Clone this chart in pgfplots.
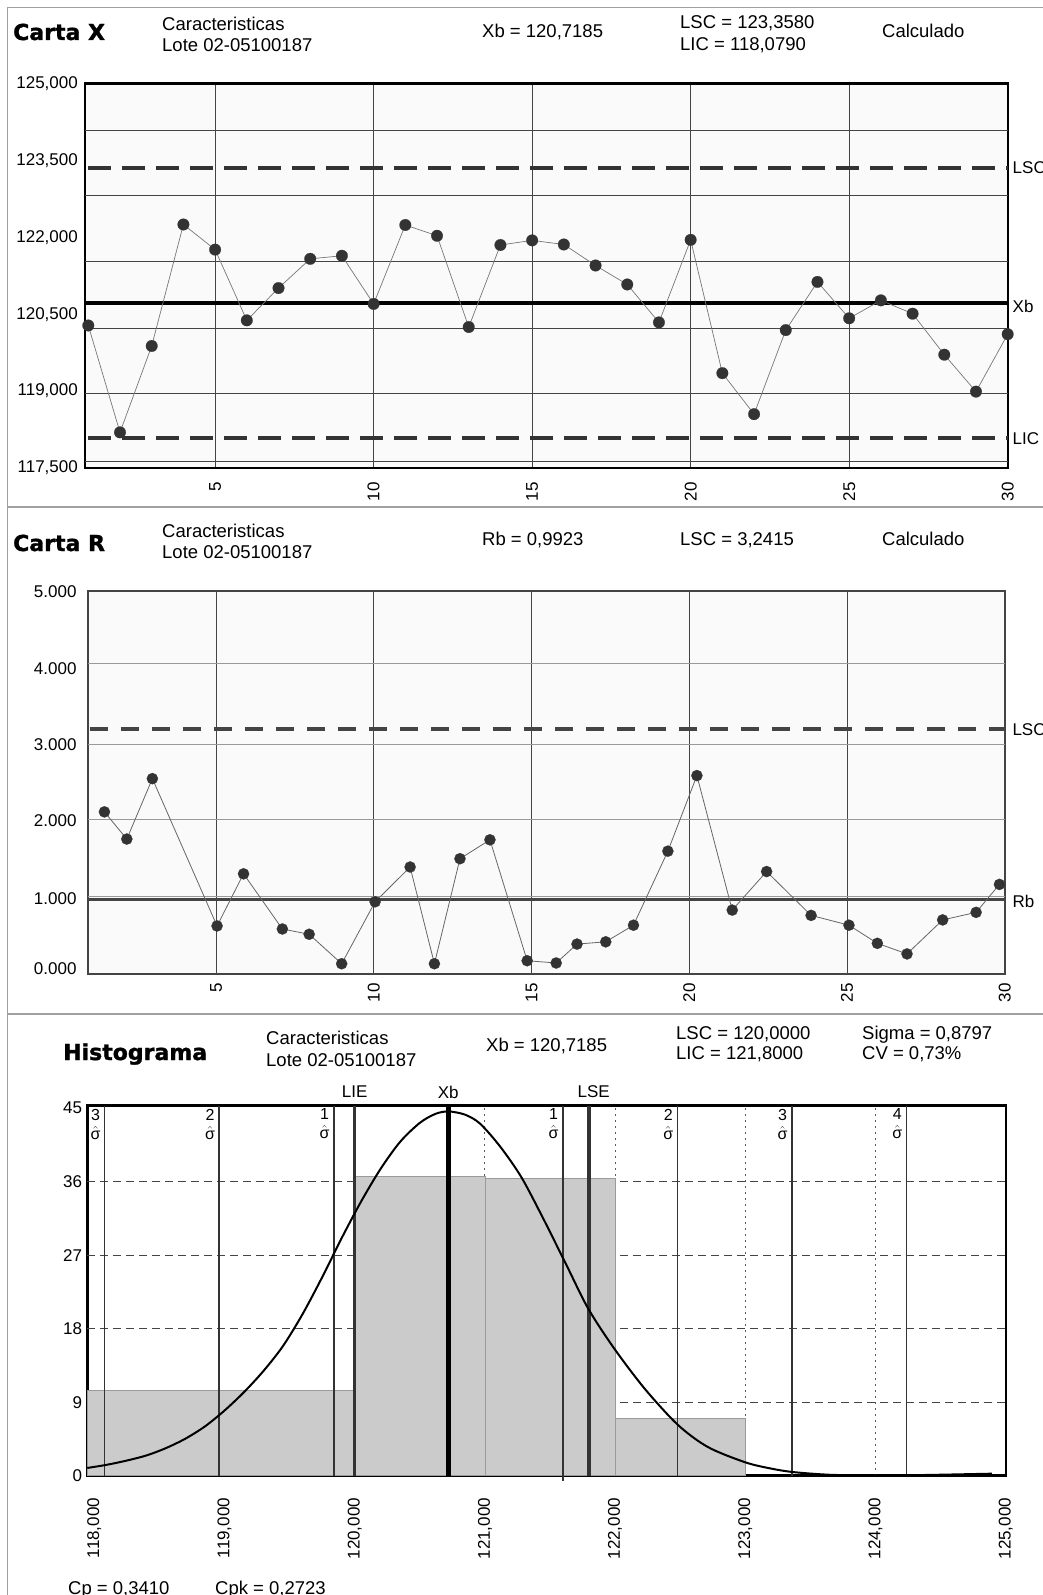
\documentclass[border=0pt]{standalone}
\usepackage{pgfplots}
\pgfplotsset{compat=1.18}
\usepackage{fontspec}
\setmainfont{Liberation Sans}
\newfontfamily\titlefont{DejaVu Sans}[BoldFeatures={FakeBold=1.4}]
\definecolor{bg}{HTML}{FAFAFA}
\definecolor{gridc}{HTML}{444444}
\definecolor{gridl}{HTML}{999999}
\definecolor{dk}{HTML}{333333}
\definecolor{rf}{HTML}{444444}
\definecolor{sep}{HTML}{A0A0A0}
\definecolor{barf}{HTML}{CBCBCB}
\definecolor{bard}{HTML}{9A9A9A}
\definecolor{dline}{HTML}{777777}
\newcommand{\hf}{\fontsize{18.5}{20}\selectfont}
\newcommand{\tf}{\fontsize{17}{17}\selectfont}
\newcommand{\bt}{\titlefont\bfseries\fontsize{22}{24}\selectfont}
\newcommand{\siglab}[2]{\node[anchor=north east, inner sep=0pt, align=center, font=\fontsize{16}{15}\selectfont] at (axis cs:#1,45.3) [xshift=-4pt, yshift=-3pt] {#2\\[4pt]$\hat{\hbox{σ}}$};}
\begin{document}
\begin{tikzpicture}
\useasboundingbox (0pt,0pt) rectangle (1043pt,-1595pt);
\begin{scope}[x=1pt,y=-1pt]
\draw[sep, line width=1.2pt] (1043,7.3) -- (7.5,7.3) -- (7.5,1600);
\draw[sep, line width=1.2pt] (7.5,507) -- (1043,507);
\draw[sep, line width=1.2pt] (7.5,1014) -- (1043,1014);
% headers panel 1
\node[anchor=base west, inner sep=0pt, font=\bt] at (13,40) {Carta X};
\node[anchor=base west, inner sep=0pt, font=\hf] at (162,31) {Caracteristicas};
\node[anchor=base west, inner sep=0pt, font=\hf] at (162,51.5) {Lote 02-05100187};
\node[anchor=base west, inner sep=0pt, font=\hf] at (482,38) {Xb = 120,7185};
\node[anchor=base west, inner sep=0pt, font=\hf] at (680,28.5) {LSC = 123,3580};
\node[anchor=base west, inner sep=0pt, font=\hf] at (680,50.5) {LIC = 118,0790};
\node[anchor=base west, inner sep=0pt, font=\hf] at (882,37.5) {Calculado};
% headers panel 2
\node[anchor=base west, inner sep=0pt, font=\bt] at (13,551) {Carta R};
\node[anchor=base west, inner sep=0pt, font=\hf] at (162,537) {Caracteristicas};
\node[anchor=base west, inner sep=0pt, font=\hf] at (162,558) {Lote 02-05100187};
\node[anchor=base west, inner sep=0pt, font=\hf] at (482,545) {Rb = 0,9923};
\node[anchor=base west, inner sep=0pt, font=\hf] at (680,545) {LSC = 3,2415};
\node[anchor=base west, inner sep=0pt, font=\hf] at (882,545) {Calculado};
% headers panel 3
\node[anchor=base west, inner sep=0pt, font=\bt] at (63,1060) {Histograma};
\node[anchor=base west, inner sep=0pt, font=\hf] at (266,1044) {Caracteristicas};
\node[anchor=base west, inner sep=0pt, font=\hf] at (266,1066) {Lote 02-05100187};
\node[anchor=base west, inner sep=0pt, font=\hf] at (486,1051) {Xb = 120,7185};
\node[anchor=base west, inner sep=0pt, font=\hf] at (676,1039) {LSC = 120,0000};
\node[anchor=base west, inner sep=0pt, font=\hf] at (676,1059) {LIC = 121,8000};
\node[anchor=base west, inner sep=0pt, font=\hf] at (862,1039) {Sigma = 0,8797};
\node[anchor=base west, inner sep=0pt, font=\hf] at (862,1059) {CV = 0,73\%};
\node[anchor=base west, inner sep=0pt, font=\hf] at (68,1594) {Cp = 0,3410};
\node[anchor=base west, inner sep=0pt, font=\hf] at (215,1594) {Cpk = 0,2723};
\end{scope}

% ---------------- Carta X ----------------
\begin{axis}[
 at={(85pt,-83.5pt)}, anchor=north west,
 width=923pt, height=384.5pt, scale only axis,
 xmin=0.896, xmax=30.01, ymin=117.5, ymax=125,
 clip=false,
 axis background/.style={fill=bg},
 axis line style={line width=2.5pt, black},
 major tick length=0pt,
 xtick={5,10,15,20,25,30}, xticklabels={5,10,15,20,25,30},
 xmajorgrids,
 major grid style={gridc, line width=0.8pt},
 ytick={117.5,119,120.5,122,123.5,125},
 yticklabels={{117,500},{119,000},{120,500},{122,000},{123,500},{125,000}},
 extra y ticks={117.63,118.96,120.23,121.53,122.81,124.09},
 extra y tick labels={},
 extra y tick style={grid=major, major grid style={gridc, line width=0.8pt}},
 ticklabel style={font=\tf},
 xticklabel style={rotate=90, anchor=east, inner sep=0pt},
 xticklabel shift=14pt,
 yticklabel style={anchor=east, inner sep=0pt, xshift=-7pt},
]
\addplot[dk, line width=4pt, dash pattern=on 23pt off 11pt, forget plot] coordinates {(1.0,123.358) (30.01,123.358)};
\addplot[dk, line width=4pt, dash pattern=on 23pt off 11pt, forget plot] coordinates {(1.0,118.079) (30.01,118.079)};
\addplot[black, line width=4pt, forget plot] coordinates {(0.896,120.7185) (30.01,120.7185)};
\addplot[dline, line width=0.7pt, mark=*, mark size=5.8pt, mark options={solid, fill=dk, draw=dk, line width=0.2pt}] coordinates {
(1,120.28) (2,118.195) (3,119.88) (4,122.25) (5,121.76) (6,120.38) (7,121.01) (8,121.58) (9,121.64) (10,120.70)
(11,122.24) (12,122.03) (13,120.25) (14,121.85) (15,121.94) (16,121.86) (17,121.45) (18,121.08) (19,120.34) (20,121.95)
(21,119.35) (22,118.55) (23,120.19) (24,121.13) (25,120.42) (26,120.77) (27,120.51) (28,119.71) (29,118.99) (30,120.11)};
\node[anchor=west, inner sep=0pt, font=\tf] at (axis cs:30.01,123.358) [xshift=4.5pt] {LSC};
\node[anchor=west, inner sep=0pt, font=\tf] at (axis cs:30.01,120.7185) [xshift=4.5pt, yshift=-3pt] {Xb};
\node[anchor=west, inner sep=0pt, font=\tf] at (axis cs:30.01,118.079) [xshift=4.5pt] {LIC};
\end{axis}

% ---------------- Carta R ----------------
\begin{axis}[
 at={(87.7pt,-590.7pt)}, anchor=north west,
 width=917.1pt, height=383.6pt, scale only axis,
 xmin=0.93, xmax=30, ymin=0, ymax=5.077,
 clip=false,
 axis background/.style={fill=bg},
 axis line style={line width=2.2pt, rf},
 major tick length=0pt,
 xtick={5,10,15,20,25,30}, xticklabels={5,10,15,20,25,30},
 xmajorgrids,
 major grid style={gridc, line width=0.7pt},
 ytick={0.08,1.0,2.03,3.04,4.05,5.06},
 yticklabels={0.000,1.000,2.000,3.000,4.000,5.000},
 extra y ticks={1.03,2.05,3.04,4.12},
 extra y tick labels={},
 extra y tick style={grid=major, major grid style={gridl, line width=0.9pt}},
 ticklabel style={font=\tf},
 xticklabel style={rotate=90, anchor=east, inner sep=0pt},
 xticklabel shift=9pt,
 yticklabel style={anchor=east, inner sep=0pt, xshift=-11pt},
]
\addplot[rf, line width=4.2pt, dash pattern=on 18pt off 13pt, forget plot] coordinates {(1.0,3.2415) (30,3.2415)};
\addplot[rf, line width=3.5pt, forget plot] coordinates {(0.93,0.9923) (30,0.9923)};
\addplot[gray!80!black, line width=0.8pt, mark=*, mark size=5.6pt, mark options={solid, fill=dk, draw=dk, line width=0.2pt}] coordinates {
(1.46,2.15) (2.17,1.79) (2.98,2.59) (5.03,0.64) (5.87,1.33) (7.10,0.60) (7.95,0.53) (8.98,0.14) (10.04,0.96) (11.15,1.42)
(11.92,0.14) (12.73,1.53) (13.68,1.78) (14.86,0.18) (15.78,0.15) (16.44,0.40) (17.35,0.43) (18.23,0.65) (19.32,1.63) (20.24,2.63)
(21.36,0.85) (22.45,1.36) (23.86,0.78) (25.06,0.65) (25.96,0.41) (26.90,0.27) (28.03,0.72) (29.09,0.82) (29.83,1.19)};
\node[anchor=west, inner sep=0pt, font=\tf] at (axis cs:30,3.2415) [xshift=7.5pt] {LSC};
\node[anchor=west, inner sep=0pt, font=\tf] at (axis cs:30,0.9923) [xshift=7.5pt, yshift=-2pt] {Rb};
\end{axis}

% ---------------- Histograma ----------------
\begin{axis}[
 at={(87.3pt,-1105.7pt)}, anchor=north west,
 width=918.9pt, height=370pt, scale only axis,
 xmin=117.946, xmax=125.004, ymin=0, ymax=45.3,
 clip=false,
 axis line style={line width=2.5pt, black},
 major tick length=0pt,
 xtick={118,119,120,121,122,123,124,125},
 xticklabels={{118,000},{119,000},{120,000},{121,000},{122,000},{123,000},{124,000},{125,000}},
 ytick={0,9,18,27,36,45},
 yticklabels={0,9,18,27,36,45},
 ticklabel style={font=\tf},
 xticklabel style={rotate=90, anchor=east, inner sep=0pt},
 xticklabel shift=22pt,
 yticklabel style={anchor=east, inner sep=0pt, xshift=-5pt},
]
% dashed horizontal grid
\addplot[gridc, line width=0.9pt, dash pattern=on 8pt off 5pt, forget plot] coordinates {(117.946,9) (125.004,9)};
\addplot[gridc, line width=0.9pt, dash pattern=on 8pt off 5pt, forget plot] coordinates {(117.946,18) (125.004,18)};
\addplot[gridc, line width=0.9pt, dash pattern=on 8pt off 5pt, forget plot] coordinates {(117.946,27) (125.004,27)};
\addplot[gridc, line width=0.9pt, dash pattern=on 8pt off 5pt, forget plot] coordinates {(117.946,36) (125.004,36)};
% dotted verticals
\addplot[gray!70!black, line width=0.9pt, dash pattern=on 2pt off 4pt, forget plot] coordinates {(121,0) (121,45.3)};
\addplot[gray!70!black, line width=0.9pt, dash pattern=on 2pt off 4pt, forget plot] coordinates {(122,0) (122,45.3)};
\addplot[gray!70!black, line width=0.9pt, dash pattern=on 2pt off 4pt, forget plot] coordinates {(123,0) (123,45.3)};
\addplot[gray!70!black, line width=0.9pt, dash pattern=on 2pt off 4pt, forget plot] coordinates {(124,0) (124,45.3)};
% bars
\addplot[fill=barf, draw=bard, line width=0.8pt, forget plot] coordinates {(117.946,10.4) (120,10.4)} \closedcycle;
\addplot[fill=barf, draw=bard, line width=0.8pt, forget plot] coordinates {(120,36.7) (121,36.7)} \closedcycle;
\addplot[fill=barf, draw=bard, line width=0.8pt, forget plot] coordinates {(121,36.4) (122,36.4)} \closedcycle;
\addplot[fill=barf, draw=bard, line width=0.8pt, forget plot] coordinates {(122,7.0) (123,7.0)} \closedcycle;
% sigma lines
\addplot[dk, line width=1.6pt, forget plot] coordinates {(118.079,0) (118.079,45.3)};
\addplot[dk, line width=1.6pt, forget plot] coordinates {(118.959,0) (118.959,45.3)};
\addplot[dk, line width=1.6pt, forget plot] coordinates {(119.839,0) (119.839,45.3)};
\addplot[dk, line width=1.6pt, forget plot] coordinates {(121.598,-0.6) (121.598,45.3)};
\addplot[dk, line width=1.6pt, forget plot] coordinates {(122.478,0) (122.478,45.3)};
\addplot[dk, line width=1.6pt, forget plot] coordinates {(123.357,0) (123.357,45.3)};
\addplot[dk, line width=1.6pt, forget plot] coordinates {(124.237,0) (124.237,45.3)};
% LIE, LSE, Xb
\addplot[dk, line width=3.5pt, forget plot] coordinates {(120.0,0) (120.0,45.3)};
\addplot[dk, line width=3.5pt, forget plot] coordinates {(121.8,0) (121.8,45.3)};
\addplot[black, line width=4.5pt, forget plot] coordinates {(120.7185,0) (120.7185,45.3)};
% curve
\addplot[black, line width=2pt, smooth, forget plot] coordinates {
(117.946,0.95) (118.1,1.35) (118.25,1.86) (118.4,2.48) (118.55,3.38) (118.7,4.54) (118.85,6.04) (119.0,7.98)
(119.15,10.24) (119.3,12.84) (119.45,15.9) (119.6,19.8) (119.75,24.3) (119.9,29.1) (120.05,33.6) (120.2,37.6)
(120.35,40.9) (120.5,43.2) (120.62,44.3) (120.72,44.6) (120.848,44.2) (120.963,43.1)
(121.117,40.3) (121.278,36.6) (121.438,31.8) (121.623,25.9) (121.792,20.5) (121.992,15.6) (122.23,10.6)
(122.484,6.2) (122.714,3.5) (122.998,1.65) (123.19,0.9) (123.366,0.45) (123.643,0.12) (123.958,0.04)
(124.342,0.08) (124.649,0.17) (124.894,0.25)};
% labels
\node[anchor=base, inner sep=0pt, font=\tf] at (axis cs:120.0,45.3) [yshift=8.5pt] {LIE};
\node[anchor=base, inner sep=0pt, font=\tf] at (axis cs:120.7185,45.3) [yshift=7.7pt] {Xb};
\node[anchor=base, inner sep=0pt, font=\tf] at (axis cs:121.835,45.3) [yshift=8.5pt] {LSE};
\siglab{118.079}{3}
\siglab{118.959}{2}
\siglab{119.839}{1}
\siglab{121.598}{1}
\siglab{122.478}{2}
\siglab{123.357}{3}
\siglab{124.237}{4}
\end{axis}
\end{tikzpicture}
\end{document}
